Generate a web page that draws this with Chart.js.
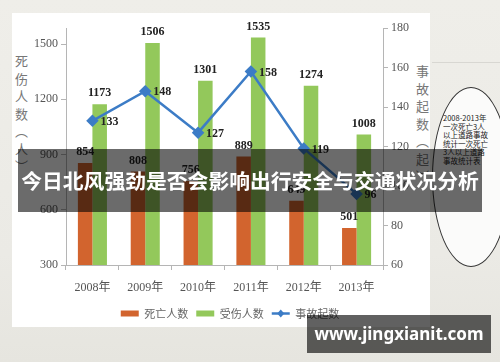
<!DOCTYPE html>
<html>
<head>
<meta charset="utf-8">
<script src="https://cdn.jsdelivr.net/npm/chart.js@4.4.0/dist/chart.umd.min.js"></script>
<style>
  html, body { margin: 0; padding: 0; }
  body {
    width: 500px; height: 362px; position: relative; overflow: hidden;
    background: linear-gradient(180deg, #efeee9 0%, #ebeae5 70%, #e6e5df 100%);
    font-family: "Noto Sans CJK SC", sans-serif;
  }
  #panel { position: absolute; left: 12px; top: 13px; width: 418px; height: 314px; background: #fff; }
  #wrap { position: absolute; left: 0; top: 0; width: 460px; height: 362px; }
  .ytitle {
    position: absolute; writing-mode: vertical-rl; font-size: 13px; line-height: 1;
    color: #777; letter-spacing: 4.5px; white-space: nowrap;
  }
  #bubble {
    position: absolute; left: 432px; top: 87px; width: 76px; height: 178px;
    border: 1.5px solid #333; border-radius: 50%; background: #fbfbfa;
  }
  #bubbleText {
    position: absolute; left: 443px; top: 114px; width: 46px;
    font-size: 7.5px; line-height: 8.5px; color: #222; word-break: break-all;
  }
  #rule { position: absolute; left: 432px; top: 62px; width: 68px; height: 1px; background: #d8d7d2; }
  #banner {
    position: absolute; left: 18px; top: 149px; width: 464px; height: 63px;
    background: rgba(0, 0, 0, 0.58); color: #fff; font-weight: bold; font-size: 20.8px;
    line-height: 63px; text-align: center; white-space: nowrap;
  }
  #mark {
    position: absolute; left: 307px; top: 315px; width: 184px; height: 38px;
    background: rgba(0, 0, 0, 0.62); color: #fff; font-family: "Noto Sans", sans-serif;
    font-weight: bold; font-size: 17px; line-height: 38px; text-align: center;
  }
</style>
</head>
<body>
<div id="panel"></div>
<div id="rule"></div>
<div id="bubble"></div>
<div id="bubbleText">2008-2013年 一次死亡3人以上道路事故统计一次死亡3人以上道路事故统计表</div>
<div class="ytitle" style="left:15px; top:55px;">死伤人数（人）</div>
<div class="ytitle" style="left:416px; top:65px;">事故起数（起）</div>
<div id="wrap"><canvas id="chart" width="460" height="362"></canvas></div>
<div id="banner">今日北风强劲是否会影响出行安全与交通状况分析</div>
<div id="mark">www.jingxianit.com</div>
<script>
const years = ['2008年', '2009年', '2010年', '2011年', '2012年', '2013年'];
const deaths = [854, 808, 756, 889, 649, 501];
const injuries = [1173, 1506, 1301, 1535, 1274, 1008];
const accidents = [133, 148, 127, 158, 119, 96];
const leftTicks = [300, 600, 900, 1200, 1500];
const rightTicks = [60, 80, 100, 120, 140, 160, 180];

const axisColor = '#b5b5b5';
const serif = '"Liberation Serif", "Noto Sans CJK SC", serif';

// numbers above bars and beside the line points
const valueLabels = {
    id: 'valueLabels',
    afterDatasetsDraw(chart) {
        const ctx = chart.ctx;
        ctx.save();
        ctx.font = 'bold 12px "Liberation Serif"';
        ctx.fillStyle = '#222';
        chart.data.datasets.forEach(function(ds, i) {
            const meta = chart.getDatasetMeta(i);
            meta.data.forEach(function(el, j) {
                const text = String(ds.data[j]);
                if (ds.type === 'line') {
                    ctx.textAlign = 'left';
                    ctx.textBaseline = 'middle';
                    ctx.fillText(text, el.x + 8, el.y + 1);
                } else {
                    ctx.textAlign = 'center';
                    ctx.textBaseline = 'bottom';
                    ctx.fillText(text, el.x, el.y - 5);
                }
            });
        });
        ctx.restore();
    }
};

// diamond marker on the line entry of the legend
const legendMarker = {
    id: 'legendMarker',
    afterDraw(chart) {
        const legend = chart.legend;
        if (!legend || !legend.legendHitBoxes) return;
        const idx = legend.legendItems.findIndex(function(it) { return it.datasetIndex === 2; });
        const box = legend.legendHitBoxes[idx];
        if (!box) return;
        const ctx = chart.ctx;
        const cx = box.left + 9;
        const cy = box.top + box.height / 2;
        ctx.save();
        ctx.fillStyle = '#3c7cc6';
        ctx.beginPath();
        ctx.moveTo(cx, cy - 4);
        ctx.lineTo(cx + 3.5, cy);
        ctx.lineTo(cx, cy + 4);
        ctx.lineTo(cx - 3.5, cy);
        ctx.closePath();
        ctx.fill();
        ctx.restore();
    }
};

const ctx = document.getElementById('chart').getContext('2d');
window.accChart = new Chart(ctx, {
    data: {
        labels: years,
        datasets: [{
            type: 'bar',
            label: '死亡人数',
            data: deaths,
            backgroundColor: '#d2642e',
            yAxisID: 'y',
            order: 1,
            categoryPercentage: 0.55,
            barPercentage: 1.0
        }, {
            type: 'bar',
            label: '受伤人数',
            data: injuries,
            backgroundColor: '#93c85b',
            yAxisID: 'y',
            order: 1,
            categoryPercentage: 0.55,
            barPercentage: 1.0
        }, {
            type: 'line',
            label: '事故起数',
            data: accidents,
            borderColor: '#3c7cc6',
            backgroundColor: '#3c7cc6',
            borderWidth: 2.5,
            pointStyle: 'rectRot',
            pointRadius: 4.5,
            yAxisID: 'y1',
            order: 0
        }]
    },
    options: {
        responsive: false,
        animation: false,
        layout: { padding: { top: 28, bottom: 33, left: 0, right: 0 } },
        plugins: {
            tooltip: { enabled: false },
            legend: {
                position: 'bottom',
                labels: {
                    usePointStyle: true,
                    pointStyleWidth: 18,
                    boxWidth: 18,
                    boxHeight: 6,
                    padding: 8,
                    color: '#666',
                    font: { family: '"Noto Sans CJK SC"', size: 11 },
                    sort: function(a, b) { return a.datasetIndex - b.datasetIndex; },
                    generateLabels: function(chart) {
                        const items = Chart.defaults.plugins.legend.labels.generateLabels(chart);
                        items.forEach(function(it) {
                            it.pointStyle = it.datasetIndex === 2 ? 'line' : 'rect';
                        });
                        return items;
                    }
                }
            }
        },
        scales: {
            x: {
                grid: { drawOnChartArea: false, tickLength: 5, color: axisColor },
                border: { color: axisColor },
                ticks: { color: '#555', padding: 11, font: { family: serif, size: 12 } },
                afterFit: function(s) { s.height = 35; }
            },
            y: {
                position: 'left',
                min: 300,
                max: 1587,
                afterBuildTicks: function(s) { s.ticks = leftTicks.map(function(v) { return { value: v }; }); },
                grid: { drawOnChartArea: false, tickLength: 5, color: axisColor },
                border: { color: axisColor },
                ticks: { color: '#555', padding: 3, font: { family: serif, size: 12 },
                    callback: function(v) { return String(v); } },
                afterFit: function(s) { s.width = 66; }
            },
            y1: {
                position: 'right',
                min: 60,
                max: 180,
                afterBuildTicks: function(s) { s.ticks = rightTicks.map(function(v) { return { value: v }; }); },
                grid: { drawOnChartArea: false, tickLength: 5, color: axisColor },
                border: { color: axisColor },
                ticks: { color: '#555', padding: 3, font: { family: serif, size: 12 },
                    callback: function(v) { return String(v); } },
                afterFit: function(s) { s.width = 77; }
            }
        }
    },
    plugins: [valueLabels, legendMarker]
});
</script>
</body>
</html>
